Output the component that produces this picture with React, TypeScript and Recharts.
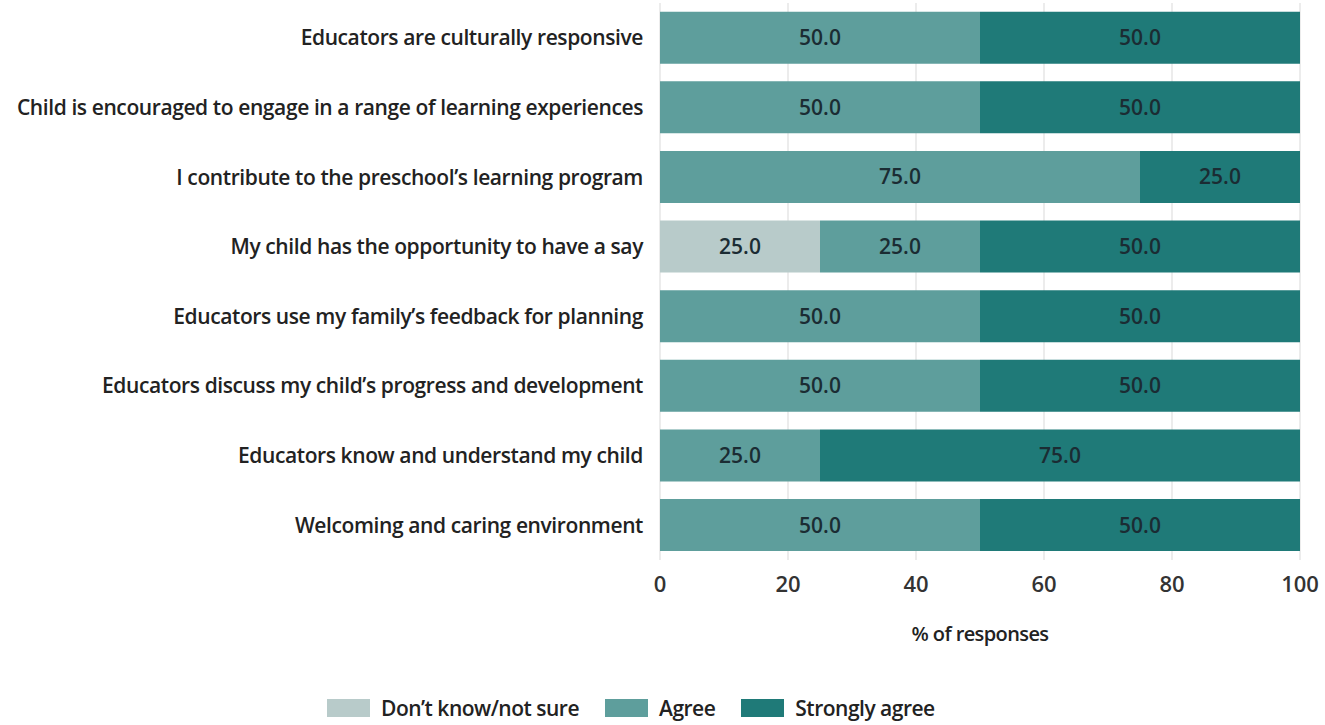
import React from "react";
import {
  BarChart,
  Bar,
  XAxis,
  YAxis,
  CartesianGrid,
  LabelList,
  Legend,
} from "recharts";

const statements = [
  "Educators are culturally responsive",
  "Child is encouraged to engage in a range of learning experiences",
  "I contribute to the preschool’s learning program",
  "My child has the opportunity to have a say",
  "Educators use my family’s feedback for planning",
  "Educators discuss my child’s progress and development",
  "Educators know and understand my child",
  "Welcoming and caring environment",
];

const dontKnow = [0, 0, 0, 25, 0, 0, 0, 0];
const agree = [50, 50, 75, 25, 50, 50, 25, 50];
const stronglyAgree = [50, 50, 25, 50, 50, 50, 75, 50];

const xTicks = [0, 20, 40, 60, 80, 100];

const series = [
  { key: "dontKnow", name: "Don’t know/not sure", color: "#b8cbca" },
  { key: "agree", name: "Agree", color: "#5e9e9c" },
  { key: "strongly", name: "Strongly agree", color: "#1f7a78" },
];

const data = statements.map((name, i) => ({
  name,
  dontKnow: dontKnow[i],
  agree: agree[i],
  strongly: stronglyAgree[i],
}));

const FONT = "'Open Sans', sans-serif";

const fmt = (v: any) => (v > 0 ? Number(v).toFixed(1) : "");

function LegendBox() {
  return (
    <div
      style={{
        display: "flex",
        alignItems: "center",
        fontFamily: FONT,
        fontSize: 21,
        fontWeight: 600,
        color: "#222",
        letterSpacing: -0.5,
        height: 25,
      }}
    >
      {series.map((s) => (
        <div key={s.key} style={{ display: "flex", alignItems: "center", marginRight: 26 }}>
          <span
            style={{
              display: "inline-block",
              width: 43,
              height: 18,
              background: s.color,
              marginRight: 11,
            }}
          />
          <span>{s.name}</span>
        </div>
      ))}
    </div>
  );
}

export default function App() {
  return (
    <div style={{ position: "absolute", left: 0, top: 0, background: "#fff" }}>
      <BarChart
        width={1325}
        height={725}
        data={data}
        layout="vertical"
        margin={{ top: 3, right: 25, left: 0, bottom: 50 }}
        barCategoryGap="12.5%"
      >
        <CartesianGrid horizontal={false} stroke="#d9d9d9" />
        <XAxis
          type="number"
          domain={[0, 100]}
          ticks={xTicks}
          axisLine={false}
          tickLine={false}
          tickMargin={10}
          height={90}
          tick={{ fill: "#333", fontSize: 22, fontFamily: FONT, fontWeight: 600 }}
          label={{
            value: "% of responses",
            position: "insideBottom",
            offset: 9,
            style: { fill: "#222", fontSize: 20, fontFamily: FONT, fontWeight: 600, letterSpacing: -0.6 },
          }}
        />
        <YAxis
          type="category"
          dataKey="name"
          width={660}
          axisLine={false}
          tickLine={false}
          tickSize={0}
          tickMargin={17}
          interval={0}
          tick={{ fill: "#222", fontSize: 21, fontFamily: FONT, fontWeight: 600, letterSpacing: -0.4 }}
        />
        <Legend
          verticalAlign="bottom"
          content={() => <LegendBox />}
          wrapperStyle={{ left: 327, bottom: 5, width: 700 }}
        />
        {series.map((s) => (
          <Bar
            key={s.key}
            dataKey={s.key}
            name={s.name}
            stackId="a"
            fill={s.color}
            isAnimationActive={false}
          >
            <LabelList
              dataKey={s.key}
              position="center"
              formatter={fmt}
              style={{ fill: "#1b2c33", fontSize: 21, fontFamily: FONT, fontWeight: 600 }}
            />
          </Bar>
        ))}
      </BarChart>
    </div>
  );
}
